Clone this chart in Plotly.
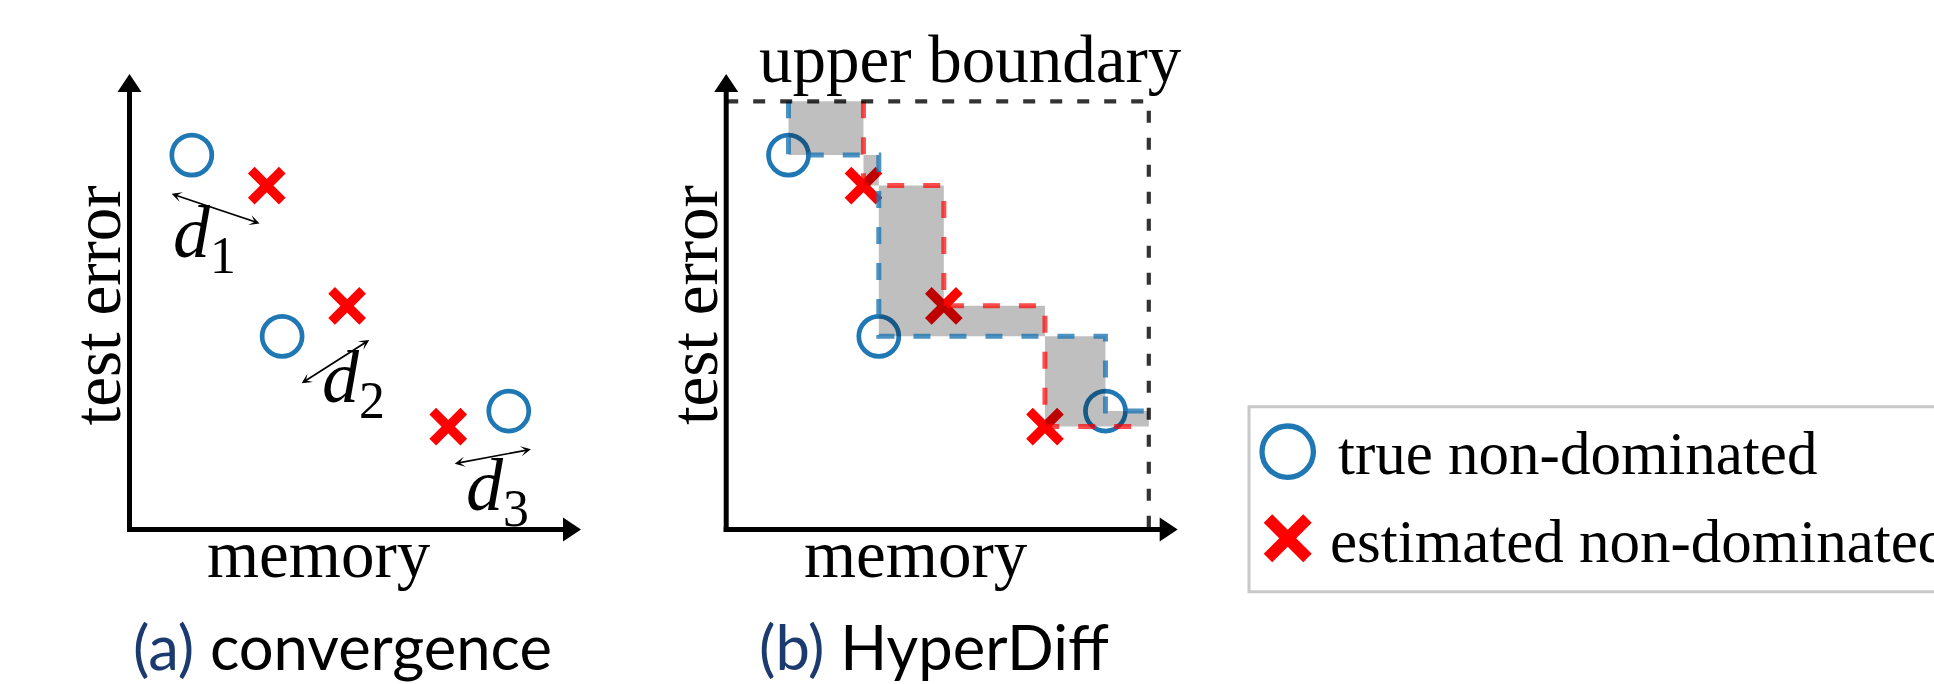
import plotly.graph_objects as go

W, H = 1934, 684

# ---------------- data (arbitrary units: memory on x, test error on y) ----------------
TRUE_MEMORY = [1.38, 3.38, 8.40]
TRUE_ERROR = [8.22, 4.24, 2.60]
EST_MEMORY = [3.04, 4.82, 7.06]
EST_ERROR = [7.55, 4.91, 2.26]
UPPER_MEMORY = 9.36          # upper boundary (reference point) of panel (b)
UPPER_ERROR = 9.40

DIST_SUBSCRIPTS = ["1", "2", "3"]
DIST_FROM_MEMORY = [0.90, 3.78, 7.17]
DIST_FROM_ERROR = [7.38, 3.19, 1.44]
DIST_TO_MEMORY = [2.88, 5.31, 8.89]
DIST_TO_ERROR = [6.72, 4.16, 1.76]
DIST_LABEL_MEMORY = [1.67, 4.97, 8.15]
DIST_LABEL_ERROR = [6.40, 3.22, 0.85]

X_LABEL = "memory"
Y_LABEL = "test error"
BOUNDARY_LABEL = "upper boundary"
LEGEND_LABELS = ["true non-dominated", "estimated non-dominated"]
CAPTION_TAGS = ["(a)", "(b)"]
CAPTION_TEXTS = ["convergence", "HyperDiff"]
AXIS_MAX = 10

# ---------------- styles / layout geometry (pixels) ----------------
BLUE = "#1f77b4"
RED = "#ff0000"
NAVY = "#1b3a6f"
SERIF = "Liberation Serif"
SANS = "Lato"
LABEL_SIZE = 67
LEGEND_SIZE = 61

PANEL_X0 = [129.5, 726.2]     # y-axis position of each panel
PANEL_X1 = [581.0, 1177.7]    # x-arrow tip
AX_Y0 = 529.5                 # x-axis position
AX_Y1 = 74.0                  # y-arrow tip


def fx(p):
    return p / W


def fy(p):
    return 1 - p / H


fig = go.Figure()

axes = [("x", "y"), ("x2", "y2")]
layout_axes = {}
for i, (xa, ya) in enumerate(axes):
    xkey = "xaxis" if i == 0 else "xaxis2"
    ykey = "yaxis" if i == 0 else "yaxis2"
    layout_axes[xkey] = dict(domain=[fx(PANEL_X0[i]), fx(PANEL_X1[i])], range=[0, AXIS_MAX],
                             visible=False, anchor=ya, fixedrange=True)
    layout_axes[ykey] = dict(domain=[fy(AX_Y0), fy(AX_Y1)], range=[0, AXIS_MAX],
                             visible=False, anchor=xa, fixedrange=True)
layout_axes["xaxis3"] = dict(domain=[0, 1], range=[0, W], visible=False, anchor="y3", fixedrange=True)
layout_axes["yaxis3"] = dict(domain=[0, 1], range=[H, 0], visible=False, anchor="x3", fixedrange=True)


def add_points(xa, ya):
    fig.add_trace(go.Scatter(x=TRUE_MEMORY, y=TRUE_ERROR, mode="markers", xaxis=xa, yaxis=ya,
                             marker=dict(symbol="circle-open", size=40, color=BLUE,
                                         line=dict(width=4.7, color=BLUE)),
                             cliponaxis=False, showlegend=False, hoverinfo="skip"))
    fig.add_trace(go.Scatter(x=EST_MEMORY, y=EST_ERROR, mode="markers", xaxis=xa, yaxis=ya,
                             marker=dict(symbol="x-thin", size=31, color=RED,
                                         line=dict(width=9.4, color=RED)),
                             cliponaxis=False, showlegend=False, hoverinfo="skip"))


# ---- panel (a): points + distance arrows ----
add_points("x", "y")

# ---- panel (b): points, hypervolume difference, fronts, upper boundary ----
add_points("x2", "y2")


def dominated(px, py, mem, err):
    return any(m <= px and e <= py for m, e in zip(mem, err))


xs = sorted(set(TRUE_MEMORY + EST_MEMORY + [UPPER_MEMORY]))
ys = sorted(set(TRUE_ERROR + EST_ERROR + [UPPER_ERROR]))
gx, gy = [], []
for i in range(len(xs) - 1):
    for j in range(len(ys) - 1):
        mx = (xs[i] + xs[i + 1]) / 2
        my = (ys[j] + ys[j + 1]) / 2
        if dominated(mx, my, TRUE_MEMORY, TRUE_ERROR) != dominated(mx, my, EST_MEMORY, EST_ERROR):
            gx += [xs[i], xs[i + 1], xs[i + 1], xs[i], xs[i], None]
            gy += [ys[j], ys[j], ys[j + 1], ys[j + 1], ys[j], None]
fig.add_trace(go.Scatter(x=gx, y=gy, mode="lines", fill="toself", xaxis="x2", yaxis="y2",
                         fillcolor="rgba(0,0,0,0.25)", line=dict(width=0),
                         showlegend=False, hoverinfo="skip", cliponaxis=False))

for mem, err, col in [(EST_MEMORY, EST_ERROR, "rgba(255,0,0,0.7)"),
                      (TRUE_MEMORY, TRUE_ERROR, "rgba(31,119,180,0.8)")]:
    fig.add_trace(go.Scatter(x=[mem[0]] + mem + [UPPER_MEMORY],
                             y=[UPPER_ERROR] + err + [err[-1]],
                             mode="lines", line=dict(shape="hv", color=col, width=5, dash="17px,19px"),
                             xaxis="x2", yaxis="y2", showlegend=False, hoverinfo="skip",
                             cliponaxis=False))

fig.add_trace(go.Scatter(x=[0, UPPER_MEMORY, UPPER_MEMORY], y=[UPPER_ERROR, UPPER_ERROR, 0],
                         mode="lines", line=dict(color="rgba(0,0,0,0.8)", width=4.2, dash="12px,15px"),
                         xaxis="x2", yaxis="y2", showlegend=False, hoverinfo="skip", cliponaxis=False))

# ---- legend markers (drawn manually on a pixel overlay axis) ----
fig.add_trace(go.Scatter(x=[1287.7], y=[451.7], mode="markers", xaxis="x3", yaxis="y3",
                         marker=dict(symbol="circle-open", size=51.4, color=BLUE,
                                     line=dict(width=5.3, color=BLUE)),
                         showlegend=False, hoverinfo="skip", cliponaxis=False))
fig.add_trace(go.Scatter(x=[1287.7], y=[538.3], mode="markers", xaxis="x3", yaxis="y3",
                         marker=dict(symbol="x-thin", size=39.5, color=RED,
                                     line=dict(width=12, color=RED)),
                         showlegend=False, hoverinfo="skip", cliponaxis=False))

shapes = []
# legend box (runs off the right edge like the reference)
shapes.append(dict(type="rect", xref="paper", yref="paper", x0=fx(1249), x1=1.2,
                   y0=fy(591.7), y1=fy(406.7), line=dict(color="#c8c8c8", width=3),
                   fillcolor="rgba(0,0,0,0)", layer="below"))

# axes with arrow heads
HEAD_L, HEAD_W = 18, 12
for i in range(2):
    ox, xt = PANEL_X0[i], PANEL_X1[i]
    shapes.append(dict(type="line", xref="paper", yref="paper",
                       x0=fx(ox - 2.5), x1=fx(xt - HEAD_L + 1), y0=fy(AX_Y0), y1=fy(AX_Y0),
                       line=dict(color="black", width=5)))
    shapes.append(dict(type="path", xref="paper", yref="paper",
                       path=f"M{fx(xt - HEAD_L)},{fy(AX_Y0 - HEAD_W)} L{fx(xt)},{fy(AX_Y0)} "
                            f"L{fx(xt - HEAD_L)},{fy(AX_Y0 + HEAD_W)} Z",
                       fillcolor="black", line=dict(width=0)))
    shapes.append(dict(type="line", xref="paper", yref="paper",
                       x0=fx(ox), x1=fx(ox), y0=fy(AX_Y0 + 2.5), y1=fy(AX_Y1 + HEAD_L - 1),
                       line=dict(color="black", width=5)))
    shapes.append(dict(type="path", xref="paper", yref="paper",
                       path=f"M{fx(ox - HEAD_W)},{fy(AX_Y1 + HEAD_L)} L{fx(ox)},{fy(AX_Y1)} "
                            f"L{fx(ox + HEAD_W)},{fy(AX_Y1 + HEAD_L)} Z",
                       fillcolor="black", line=dict(width=0)))

annotations = []
serif = dict(family=SERIF, size=LABEL_SIZE, color="black")
for i in range(2):
    ox = PANEL_X0[i]
    annotations.append(dict(x=fx(ox + 189.5), y=fy(554.4), xref="paper", yref="paper",
                            text=X_LABEL, showarrow=False, font=serif,
                            xanchor="center", yanchor="middle"))
    annotations.append(dict(x=fx(ox - 32.1), y=fy(305), xref="paper", yref="paper",
                            text=Y_LABEL, showarrow=False, font=serif, textangle=-90,
                            xanchor="center", yanchor="middle"))
annotations.append(dict(x=fx(970), y=fy(59.4), xref="paper", yref="paper", text=BOUNDARY_LABEL,
                        showarrow=False, font=serif, xanchor="center", yanchor="middle"))

# distance arrows and labels (panel a)
for k in range(3):
    annotations.append(dict(x=DIST_TO_MEMORY[k], y=DIST_TO_ERROR[k], ax=DIST_FROM_MEMORY[k],
                            ay=DIST_FROM_ERROR[k], xref="x", yref="y", axref="x", ayref="y",
                            text="", showarrow=True, arrowhead=3, startarrowhead=3,
                            arrowside="end+start", arrowsize=1, startarrowsize=1,
                            arrowwidth=1.7, arrowcolor="black"))
    annotations.append(dict(x=DIST_LABEL_MEMORY[k], y=DIST_LABEL_ERROR[k], xref="x", yref="y",
                            text=f"<i>d</i><sub>{DIST_SUBSCRIPTS[k]}</sub>", showarrow=False,
                            font=dict(family=SERIF, size=74, color="black"),
                            xanchor="center", yanchor="middle"))

# legend labels
annotations.append(dict(x=fx(1336), y=fy(453.4), xref="paper", yref="paper", text=LEGEND_LABELS[0],
                        showarrow=False, font=dict(family=SERIF, size=LEGEND_SIZE, color="black"),
                        xanchor="left", yanchor="middle"))
annotations.append(dict(x=fx(1328), y=fy(541.1), xref="paper", yref="paper", text=LEGEND_LABELS[1],
                        showarrow=False, font=dict(family=SERIF, size=LEGEND_SIZE, color="black"),
                        xanchor="left", yanchor="middle"))

# captions
for i, left in enumerate([131.0, 757.0]):
    annotations.append(dict(x=fx(left), y=fy(646), xref="paper", yref="paper",
                            text=f"<span style='color:{NAVY}'>{CAPTION_TAGS[i]}</span>&nbsp;{CAPTION_TEXTS[i]}",
                            showarrow=False, font=dict(family=SANS, size=61.5, color="black"),
                            xanchor="left", yanchor="middle"))

fig.update_layout(width=W, height=H, margin=dict(l=0, r=0, t=0, b=0),
                  paper_bgcolor="white", plot_bgcolor="rgba(0,0,0,0)",
                  shapes=shapes, annotations=annotations, showlegend=False, **layout_axes)

fig.write_html("out.html", config={"displayModeBar": False})
